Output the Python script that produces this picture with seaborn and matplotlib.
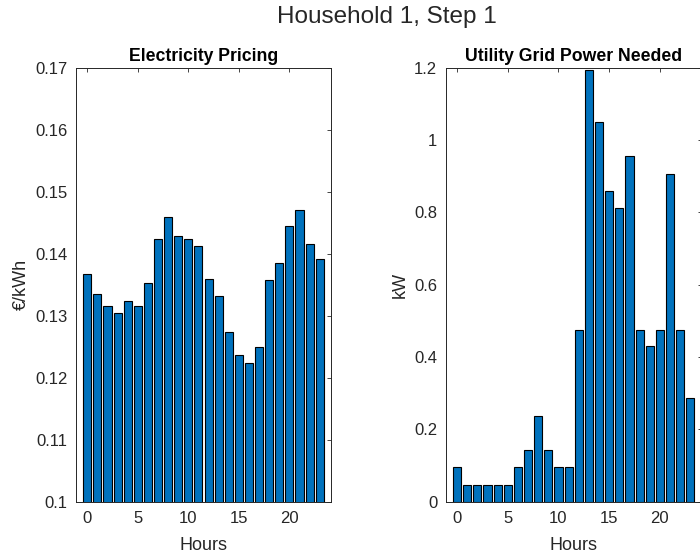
import numpy as np
import pandas as pd
import matplotlib
matplotlib.use("Agg")
import matplotlib.pyplot as plt
import seaborn as sns

hours = list(range(24))
price = [0.1367, 0.1335, 0.1315, 0.1305, 0.1323, 0.1315, 0.1353, 0.1424,
         0.1460, 0.1428, 0.1423, 0.1412, 0.1360, 0.1332, 0.1274, 0.1237,
         0.1223, 0.1250, 0.1357, 0.1385, 0.1444, 0.1470, 0.1416, 0.1391]
grid_kw = [0.095, 0.0475, 0.0475, 0.0475, 0.0475, 0.0475, 0.095, 0.1425,
           0.2375, 0.1425, 0.095, 0.095, 0.475, 1.193, 1.049, 0.860,
           0.812, 0.956, 0.475, 0.4295, 0.475, 0.906, 0.475, 0.286]

suptitle = "Household 1, Step 1"
titles = ["Electricity Pricing", "Utility Grid Power Needed"]
ylabels = ["€/kWh", "kW"]
xlabel = "Hours"
xticks = [0, 5, 10, 15, 20]
yticks_left = [0.10, 0.11, 0.12, 0.13, 0.14, 0.15, 0.16, 0.17]
yticklabels_left = ["0.1", "0.11", "0.12", "0.13", "0.14", "0.15", "0.16", "0.17"]
yticks_right = [0, 0.2, 0.4, 0.6, 0.8, 1.0, 1.2]
yticklabels_right = ["0", "0.2", "0.4", "0.6", "0.8", "1", "1.2"]

sns.set_style("white")
plt.rcParams["font.family"] = ["Liberation Sans", "DejaVu Sans"]

bar_color = "#0072BD"
axis_color = "#262626"

fig = plt.figure(figsize=(7.0, 5.57), dpi=100)
ax1 = fig.add_axes([76 / 700, 55.3 / 557, 255 / 700, 434 / 557])
ax2 = fig.add_axes([445.7 / 700, 55.3 / 557, 256 / 700, 434 / 557])

df1 = pd.DataFrame({"hour": hours, "val": price})
df2 = pd.DataFrame({"hour": hours, "val": grid_kw})

for ax, df, title, ylab, yt, ytl, ylim in [
    (ax1, df1, titles[0], ylabels[0], yticks_left, yticklabels_left, (0.1, 0.17)),
    (ax2, df2, titles[1], ylabels[1], yticks_right, yticklabels_right, (0, 1.2)),
]:
    sns.barplot(data=df, x="hour", y="val", ax=ax, native_scale=True,
                width=0.8, color=bar_color, saturation=1,
                edgecolor="black", linewidth=0.8)
    ax.set_xlim(-1.12, 24.12)
    ax.set_ylim(*ylim)
    ax.set_xticks(xticks)
    ax.set_xticklabels([str(t) for t in xticks])
    ax.set_yticks(yt)
    ax.set_yticklabels(ytl)
    ax.set_title(title, fontsize=12.7, fontweight="bold", color="black", pad=5)
    ax.set_xlabel(xlabel, fontsize=13, color=axis_color, labelpad=7.5)
    ax.set_ylabel(ylab, fontsize=13, color=axis_color, labelpad=4)
    ax.tick_params(axis="both", direction="in", length=3, width=0.6,
                   colors=axis_color, labelsize=12, top=True, right=True)
    ax.tick_params(axis="x", pad=7)
    ax.tick_params(axis="y", pad=6)
    for s in ax.spines.values():
        s.set_visible(True)
        s.set_color(axis_color)
        s.set_linewidth(0.7)

fig.text(386.7 / 700, 1 - 17 / 557, suptitle, ha="center", va="center",
         fontsize=17.5, color=axis_color)

fig.savefig("out.png", dpi=100)
